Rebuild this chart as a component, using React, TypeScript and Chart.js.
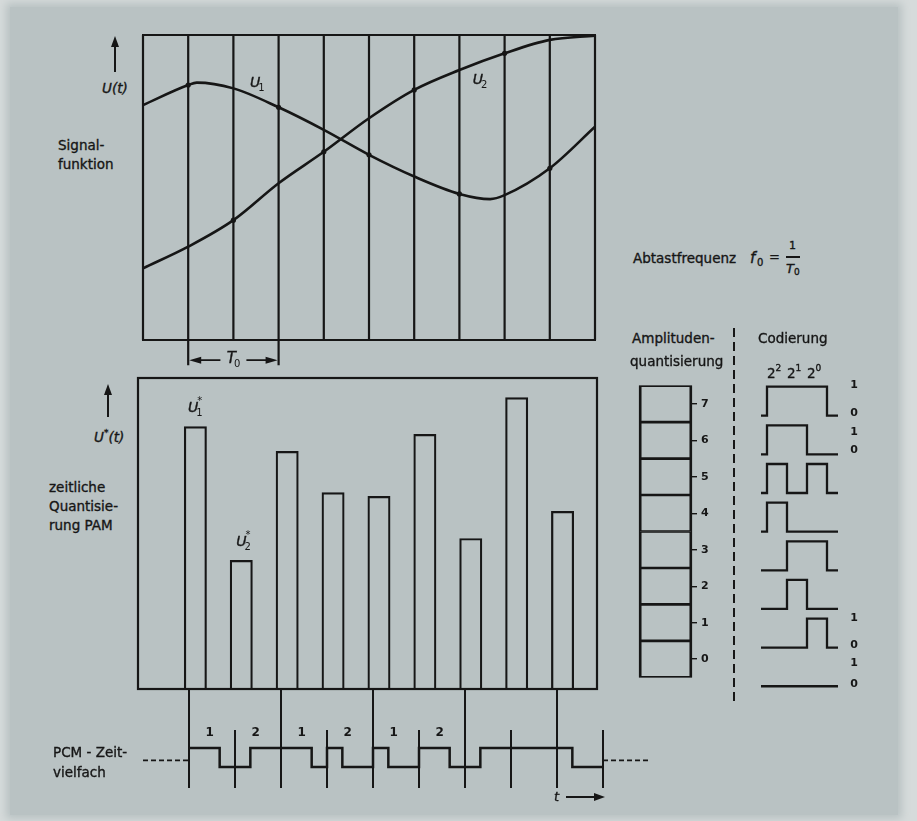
import React, { useEffect, useRef } from 'react';
import { Chart, registerables } from 'chart.js';

Chart.register(...registerables);

const INK = '#161616';
const FONT = '"DejaVu Sans", "Liberation Sans", sans-serif';

// ---------------- data ----------------
// Signalfunktion (time in sampling intervals, value in % of frame height)
const sampleInstants = [0, 1, 2, 3, 4, 5, 6, 7, 8, 9, 10];
const u1Time = [0, 1, 1.19, 2, 3, 4, 5, 6, 7, 7.68, 8, 9, 10];
const u1Value = [77.0, 83.6, 84.4, 82.5, 76.3, 68.9, 60.7, 53.6, 47.9, 46.2, 47.5, 56.3, 69.9];
const u2Time = [0, 1, 2, 3, 4, 5, 6, 7, 8, 9, 10];
const u2Value = [23.5, 30.6, 39.3, 51.4, 61.7, 72.7, 82.0, 88.5, 94.0, 98.4, 99.8];
const u1Samples = [1, 3, 5, 7, 9];
const u2Samples = [2, 4, 6, 8];
const periodSpan = [1, 3];

// PAM (values in quantisation units)
const pamTime = [1, 2, 3, 4, 5, 6, 7, 8, 9];
const pamValue = [6.81, 3.34, 6.17, 5.1, 5.0, 6.61, 3.91, 7.56, 4.61];
const pulseWidth = 0.5;

// Quantisation + coding
const quantLevels = [0, 1, 2, 3, 4, 5, 6, 7];
const codeWords = ['000', '001', '010', '011', '100', '101', '110', '111'];
const codeExponents = ['2', '1', '0'];
const codeSideTags = [
  { y: 7.8, t: '1' }, { y: 7.07, t: '0' }, { y: 6.58, t: '1' }, { y: 6.1, t: '0' },
  { y: 1.76, t: '1' }, { y: 1.06, t: '0' }, { y: 0.6, t: '1' }, { y: 0.05, t: '0' },
];
const pulseHigh = 0.75;

// PCM time multiplex
const pcmLevels = [6, 3, 6, 4, 4, 6, 3, 7, 4];
const bitsPerSlot = 3;
const firstFrame = 1;
const frameLines = [1, 3, 5, 7, 9];
const slotLines = [2, 4, 6, 8, 10];
const channelTags = ['1', '2', '1', '2', '1', '2'];
const idleSegments = [[0, 1], [10, 11]];
const idleLevel = 0.35;

// ---------------- helpers ----------------
function drawSymbol(ctx: any, x: number, y: number, main: string, sub?: string, sup?: string, size = 14) {
  ctx.save();
  ctx.fillStyle = INK;
  ctx.strokeStyle = INK;
  ctx.lineWidth = 0.4;
  ctx.textBaseline = 'middle';
  ctx.textAlign = 'left';
  ctx.font = `italic ${size}px ${FONT}`;
  const w = ctx.measureText(main).width;
  ctx.fillText(main, x - w / 2, y);
  ctx.strokeText(main, x - w / 2, y);
  ctx.font = `${Math.round(size * 0.68)}px ${FONT}`;
  if (sub) ctx.fillText(sub, x + w / 2 - 2, y + size * 0.38);
  if (sup) ctx.fillText(sup, x + w / 2 - 1, y - size * 0.45);
  ctx.restore();
}

function drawPlain(ctx: any, x: number, y: number, text: string, size = 12, weight = 'normal') {
  ctx.save();
  ctx.fillStyle = INK;
  ctx.textBaseline = 'middle';
  ctx.textAlign = 'center';
  ctx.font = `${weight} ${size}px ${FONT}`;
  ctx.fillText(text, x, y);
  ctx.restore();
}

const baseOptions = (extra: any) => ({
  responsive: false,
  animation: false,
  events: [],
  plugins: { legend: { display: false }, tooltip: { enabled: false } },
  ...extra,
});

// ---------------- chart configs ----------------
const signalFrame = {
  id: 'signalFrame',
  beforeDatasetsDraw(chart: any) {
    const { ctx, chartArea: a, scales } = chart;
    const x = scales.x, y = scales.y;
    ctx.save();
    ctx.strokeStyle = INK;
    ctx.lineWidth = 2.2;
    ctx.beginPath();
    for (const t of sampleInstants) {
      const px = x.getPixelForValue(t);
      ctx.moveTo(px, y.getPixelForValue(0));
      ctx.lineTo(px, y.getPixelForValue(100));
    }
    ctx.moveTo(a.left - 1, a.top);
    ctx.lineTo(a.right + 1, a.top);
    ctx.moveTo(a.left - 1, a.bottom);
    ctx.lineTo(a.right + 1, a.bottom);
    const [t1, t2] = periodSpan;
    const x1 = x.getPixelForValue(t1), x2 = x.getPixelForValue(t2);
    const yExt = y.getPixelForValue(-8.3);
    ctx.moveTo(x1, a.bottom);
    ctx.lineTo(x1, yExt);
    ctx.moveTo(x2, a.bottom);
    ctx.lineTo(x2, yExt);
    ctx.stroke();
    const yd = y.getPixelForValue(-6.6);
    const xm = (x1 + x2) / 2;
    ctx.lineWidth = 1.6;
    ctx.beginPath();
    ctx.moveTo(x1 + 10, yd);
    ctx.lineTo(xm - 13, yd);
    ctx.moveTo(xm + 13, yd);
    ctx.lineTo(x2 - 10, yd);
    ctx.stroke();
    ctx.fillStyle = INK;
    ctx.beginPath();
    ctx.moveTo(x1 + 1, yd);
    ctx.lineTo(x1 + 13, yd - 3.5);
    ctx.lineTo(x1 + 13, yd + 3.5);
    ctx.closePath();
    ctx.moveTo(x2 - 1, yd);
    ctx.lineTo(x2 - 13, yd - 3.5);
    ctx.lineTo(x2 - 13, yd + 3.5);
    ctx.closePath();
    ctx.fill();
    ctx.restore();
    drawSymbol(ctx, xm - 2, yd - 1, 'T', '0', undefined, 15);
  },
  afterDatasetsDraw(chart: any) {
    const { ctx, scales } = chart;
    drawSymbol(ctx, scales.x.getPixelForValue(2.48), scales.y.getPixelForValue(84.3), 'U', '1');
    drawSymbol(ctx, scales.x.getPixelForValue(7.41), scales.y.getPixelForValue(85.2), 'U', '2');
  },
};

const makeSignal = () => ({
  type: 'line',
  data: {
    datasets: [
      {
        data: u1Time.map((t, i) => ({ x: t, y: u1Value[i] })),
        borderColor: INK,
        borderWidth: 2.6,
        cubicInterpolationMode: 'monotone',
        pointRadius: (c: any) => (u1Samples.includes(u1Time[c.dataIndex]) ? 2.6 : 0),
        pointBackgroundColor: INK,
        pointBorderWidth: 0,
      },
      {
        data: u2Time.map((t, i) => ({ x: t, y: u2Value[i] })),
        borderColor: INK,
        borderWidth: 2.6,
        cubicInterpolationMode: 'monotone',
        pointRadius: (c: any) => (u2Samples.includes(u2Time[c.dataIndex]) ? 2.6 : 0),
        pointBackgroundColor: INK,
        pointBorderWidth: 0,
      },
    ],
  },
  options: baseOptions({
    layout: { padding: { left: 4, right: 4, top: 4, bottom: 30 } },
    scales: {
      x: { type: 'linear', min: 0, max: 10, display: false },
      y: { type: 'linear', min: 0, max: 100, display: false },
    },
  }),
  plugins: [signalFrame],
});

const pamFrame = {
  id: 'pamFrame',
  beforeDatasetsDraw(chart: any) {
    const { ctx, chartArea: a } = chart;
    ctx.save();
    ctx.strokeStyle = INK;
    ctx.lineWidth = 2.2;
    ctx.strokeRect(a.left, a.top, a.right - a.left, a.bottom - a.top);
    ctx.restore();
  },
  afterDatasetsDraw(chart: any) {
    const { ctx, scales } = chart;
    drawSymbol(ctx, scales.x.getPixelForValue(1.2), scales.y.getPixelForValue(7.28), 'U', '1', '*');
    drawSymbol(ctx, scales.x.getPixelForValue(2.25), scales.y.getPixelForValue(3.81), 'U', '2', '*');
  },
};

const makePam = () => ({
  type: 'bar',
  data: {
    datasets: [
      {
        data: pamTime.map((t, i) => ({ x: t + pulseWidth / 2, y: pamValue[i] })),
        backgroundColor: 'rgba(0,0,0,0)',
        borderColor: INK,
        borderWidth: 2.2,
        borderSkipped: 'start',
        barPercentage: pulseWidth,
        categoryPercentage: 1,
      },
    ],
  },
  options: baseOptions({
    layout: { padding: 3 },
    scales: {
      x: { type: 'linear', min: 0, max: 10, offset: false, display: false, ticks: { stepSize: 1 } },
      y: { type: 'linear', min: 0, max: 8.06, display: false },
    },
  }),
  plugins: [pamFrame],
});

const makeQuant = () => ({
  type: 'bar',
  data: {
    labels: [''],
    datasets: quantLevels.map((l) => ({
      label: String(l),
      data: [1],
      backgroundColor: 'rgba(0,0,0,0)',
      borderColor: INK,
      borderWidth: { top: 1, bottom: 1, left: 2.2, right: 2.2 },
      borderSkipped: false,
      barPercentage: 1,
      categoryPercentage: 1,
    })),
  },
  options: baseOptions({
    layout: { padding: { top: 2, bottom: 2, left: 2, right: 0 } },
    scales: {
      x: { stacked: true, display: false },
      y: {
        stacked: true,
        min: 0,
        max: 8,
        position: 'right',
        afterBuildTicks: (axis: any) => {
          axis.ticks = quantLevels.map((l) => ({ value: l + 0.5 }));
        },
        afterFit: (axis: any) => {
          axis.width = 28;
        },
        ticks: {
          callback: (_v: any, i: number) => String(quantLevels[i]),
          color: INK,
          font: { family: FONT, size: 11, weight: 'bold' },
          padding: 4,
        },
        grid: { drawOnChartArea: false, drawTicks: true, tickLength: 5, color: INK, lineWidth: 1.4 },
        border: { display: false },
      },
    },
  }),
  plugins: [
    {
      id: 'quantFrame',
      afterDatasetsDraw(chart: any) {
        const { ctx, chartArea: a } = chart;
        ctx.save();
        ctx.strokeStyle = INK;
        ctx.lineWidth = 1.2;
        ctx.strokeRect(a.left + 0.5, a.top + 0.5, a.right - a.left - 1, a.bottom - a.top - 1);
        ctx.restore();
      },
    },
  ],
});

function codeTrace(code: string, base: number) {
  const bits = code.split('').map(Number);
  const pts = [{ x: -0.3, y: base }];
  bits.forEach((b, j) => pts.push({ x: j, y: base + b * pulseHigh }));
  pts.push({ x: bits.length, y: base });
  pts.push({ x: bits.length + 0.55, y: base });
  return pts;
}

const makeCoding = () => ({
  type: 'line',
  data: {
    datasets: codeWords.map((code, k) => ({
      data: codeTrace(code, quantLevels[k]),
      stepped: true,
      borderColor: INK,
      borderWidth: 2.3,
      pointRadius: 0,
    })),
  },
  options: baseOptions({
    layout: { padding: 0 },
    scales: {
      x: { type: 'linear', min: -0.5, max: 4.75, display: false },
      y: { type: 'linear', min: -0.2, max: 8, display: false },
    },
  }),
  plugins: [
    {
      id: 'codeTags',
      afterDatasetsDraw(chart: any) {
        const { ctx, scales } = chart;
        for (const tag of codeSideTags) {
          drawPlain(ctx, scales.x.getPixelForValue(4.35), scales.y.getPixelForValue(tag.y), tag.t, 11, 'bold');
        }
      },
    },
  ],
});

function pcmTrace() {
  const bits = pcmLevels.flatMap((l) => codeWords[l].split('').map(Number));
  const pts = bits.map((b, j) => ({ x: firstFrame + j / bitsPerSlot, y: b }));
  pts.push({ x: firstFrame + bits.length / bitsPerSlot, y: bits[bits.length - 1] });
  return pts;
}

const PCM_YMIN = -1.21;
const PCM_YMAX = 4.1;

const makePcm = () => ({
  type: 'line',
  data: {
    datasets: [
      { data: pcmTrace(), stepped: true, borderColor: INK, borderWidth: 2.5, pointRadius: 0 },
      ...idleSegments.map(([a, b]) => ({
        data: [{ x: a, y: idleLevel }, { x: b, y: idleLevel }],
        borderColor: INK,
        borderWidth: 1.6,
        borderDash: [5, 3],
        pointRadius: 0,
      })),
      ...frameLines.map((t) => ({
        data: [{ x: t, y: PCM_YMAX }, { x: t, y: -1.1 }],
        borderColor: INK,
        borderWidth: 2,
        pointRadius: 0,
      })),
      ...slotLines.map((t) => ({
        data: [{ x: t, y: 1.95 }, { x: t, y: -1.1 }],
        borderColor: INK,
        borderWidth: 2,
        pointRadius: 0,
      })),
    ],
  },
  options: baseOptions({
    layout: { padding: 0 },
    scales: {
      x: { type: 'linear', min: -0.174, max: 11.239, display: false },
      y: { type: 'linear', min: PCM_YMIN, max: PCM_YMAX, display: false },
    },
  }),
  plugins: [
    {
      id: 'channelTags',
      afterDatasetsDraw(chart: any) {
        const { ctx, scales } = chart;
        channelTags.forEach((t, i) => {
          drawPlain(ctx, scales.x.getPixelForValue(firstFrame + i + 0.45), scales.y.getPixelForValue(1.8), t, 12, 'bold');
        });
      },
    },
  ],
});

// ---------------- components ----------------
function ChartPanel({ left, top, width, height, make }: any) {
  const ref = useRef<HTMLCanvasElement>(null);
  useEffect(() => {
    const chart = new Chart(ref.current as any, make());
    return () => chart.destroy();
  }, []);
  return (
    <canvas
      ref={ref}
      width={width}
      height={height}
      style={{ position: 'absolute', left, top, width, height }}
    />
  );
}

function Label({ x, cy, size = 13.5, italic = false, children, style }: any) {
  return (
    <div
      style={{
        position: 'absolute',
        left: x,
        top: cy - size * 0.62,
        fontFamily: FONT,
        fontSize: size,
        lineHeight: `${Math.round(size * 1.2)}px`,
        color: INK,
        fontStyle: italic ? 'italic' : 'normal',
        whiteSpace: 'nowrap',
        WebkitTextStroke: '0.35px #161616',
        ...style,
      }}
    >
      {children}
    </div>
  );
}

function UpArrow({ x, tip, end }: any) {
  return (
    <>
      <div style={{ position: 'absolute', left: x - 1, top: tip + 8, width: 2, height: end - tip - 8, background: INK }} />
      <div
        style={{
          position: 'absolute',
          left: x - 4,
          top: tip,
          width: 0,
          height: 0,
          borderLeft: '4px solid transparent',
          borderRight: '4px solid transparent',
          borderBottom: `11px solid ${INK}`,
        }}
      />
    </>
  );
}

export default function App() {
  return (
    <div style={{ position: 'fixed', left: 0, top: 0, width: 917, height: 821, background: '#d6dbdb', overflow: 'hidden' }}>
      <div style={{ position: 'absolute', left: 10, top: 7, width: 888, height: 808, background: '#b9c2c3', boxShadow: '0 0 8px 4px #b9c2c3' }} />

      <ChartPanel left={139} top={31} width={460} height={339} make={makeSignal} />
      <ChartPanel left={135} top={375} width={465} height={317} make={makePam} />
      <ChartPanel left={637} top={375} width={83} height={313} make={makeQuant} />
      <ChartPanel left={757} top={377} width={105} height={317} make={makeCoding} />
      <ChartPanel left={135} top={689} width={525} height={101} make={makePcm} />

      {/* axis arrows & left labels */}
      <UpArrow x={115} tip={36} end={72} />
      <Label x={102} cy={88} italic>U(t)</Label>
      <Label x={58} cy={145}>Signal-</Label>
      <Label x={58} cy={164}>funktion</Label>

      <UpArrow x={108} tip={384} end={417} />
      <Label x={94} cy={433} italic>
        U<sup style={{ fontSize: 9, fontStyle: 'normal' }}>*</sup>(t)
      </Label>
      <Label x={49} cy={487}>zeitliche</Label>
      <Label x={49} cy={506}>Quantisie-</Label>
      <Label x={49} cy={525}>rung PAM</Label>

      <Label x={53} cy={752}>PCM - Zeit-</Label>
      <Label x={53} cy={772}>vielfach</Label>

      {/* sampling frequency */}
      <Label x={633} cy={258}>Abtastfrequenz</Label>
      <Label x={750} cy={258} size={15} italic>f</Label>
      <Label x={757} cy={263} size={10}>0</Label>
      <Label x={769} cy={257} size={13}>=</Label>
      <Label x={789} cy={246} size={11}>1</Label>
      <div style={{ position: 'absolute', left: 786, top: 256, width: 14, height: 1.6, background: INK }} />
      <Label x={786} cy={269} size={13} italic>T</Label>
      <Label x={794} cy={273} size={9}>0</Label>

      {/* quantisation / coding headings */}
      <Label x={632} cy={338}>Amplituden-</Label>
      <Label x={630} cy={361}>quantisierung</Label>
      <Label x={758} cy={338}>Codierung</Label>
      {codeExponents.map((e, i) => (
        <Label key={e} x={767 + i * 20} cy={369} size={13.5}>
          2<sup style={{ fontSize: 9, position: 'relative', top: -1 }}>{e}</sup>
        </Label>
      ))}
      <div
        style={{
          position: 'absolute',
          left: 733,
          top: 328,
          width: 2,
          height: 377,
          background: `repeating-linear-gradient(to bottom, ${INK} 0 9px, transparent 9px 14px)`,
        }}
      />

      {/* time arrow */}
      <Label x={554} cy={797} italic size={13}>t</Label>
      <div style={{ position: 'absolute', left: 566, top: 796, width: 30, height: 2, background: INK }} />
      <div
        style={{
          position: 'absolute',
          left: 594,
          top: 793,
          width: 0,
          height: 0,
          borderTop: '4px solid transparent',
          borderBottom: '4px solid transparent',
          borderLeft: `11px solid ${INK}`,
        }}
      />
    </div>
  );
}
